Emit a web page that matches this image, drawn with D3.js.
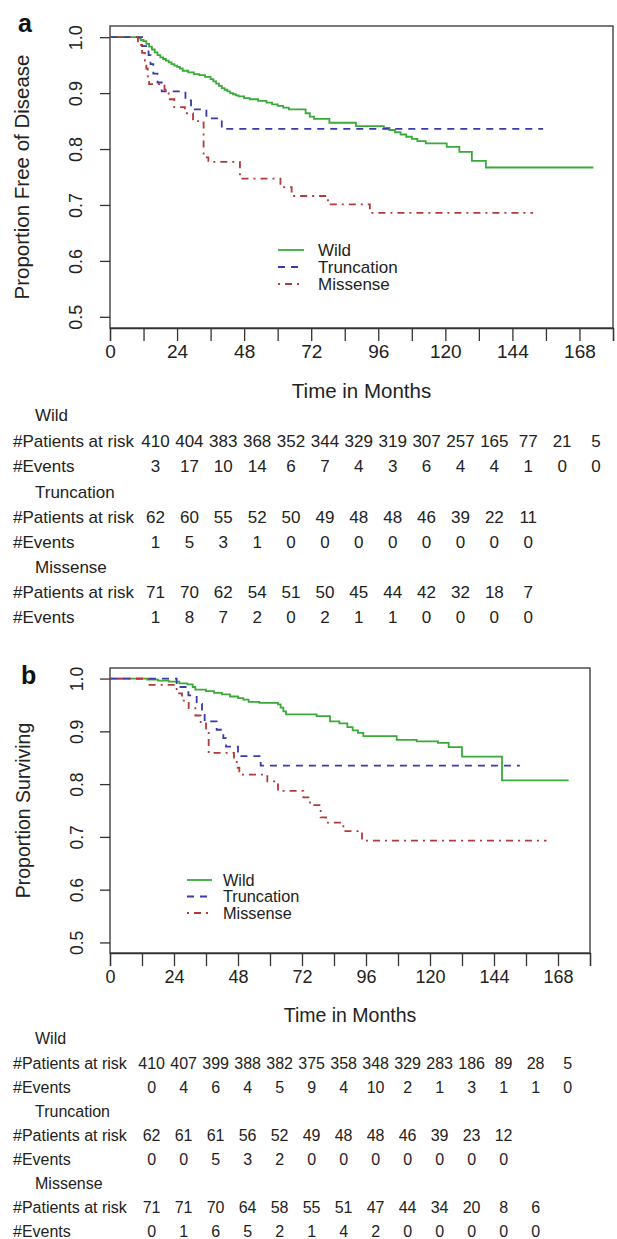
<!DOCTYPE html>
<html>
<head>
<meta charset="utf-8">
<script src="https://cdn.jsdelivr.net/npm/d3@7"></script>
<style>
  body { margin: 0; background: #fff; }
  svg { display: block; font-family: "Liberation Sans", Arial, sans-serif; }
</style>
</head>
<body>
<svg id="chart" width="617" height="1239"></svg>
<script>
// ---- data ----
const groups = ["Wild", "Truncation", "Missense"];
const xTicks = [0, 12, 24, 36, 48, 60, 72, 84, 96, 108, 120, 132, 144, 156, 168, 180];
const xLabels = [0, 24, 48, 72, 96, 120, 144, 168];
const yTicks = [0.5, 0.6, 0.7, 0.8, 0.9, 1.0];

// panel a : disease free, [month, proportion]
const dfsWild = [[0,1],[10,0.998],[11,0.995],[12,0.993],[13,0.988],[14,0.983],[15,0.978],[16,0.973],[17,0.968],[18,0.964],
  [19,0.961],[20,0.958],[21,0.955],[22,0.952],[23,0.949],[24,0.947],[25,0.944],[26,0.940],[28,0.937],[30,0.934],[32,0.932],
  [34,0.929],[36,0.925],[37,0.921],[38,0.917],[39,0.913],[40,0.909],[41,0.906],[42,0.903],[43,0.900],[44,0.898],[45,0.896],
  [46,0.894],[48,0.891],[50,0.889],[53,0.886],[56,0.883],[58,0.880],[60,0.877],[62,0.874],[64,0.871],[70,0.864],[71.5,0.858],
  [73,0.854],[78.5,0.847],[88,0.841],[98,0.838],[100,0.834],[102,0.830],[104,0.826],[106,0.822],[108,0.818],[110,0.814],
  [113,0.810],[120.5,0.804],[125,0.795],[129.5,0.779],[134.5,0.767],[173,0.767]];
const dfsTrunc = [[0,1],[11.5,0.984],[13.8,0.968],[14.5,0.952],[15.5,0.935],[17,0.919],[18.5,0.903],[27,0.887],[29,0.871],
  [34.5,0.855],[40,0.836],[155,0.836]];
const dfsMiss = [[0,1],[10,0.986],[11.5,0.972],[12.5,0.958],[13,0.944],[13.5,0.930],[14,0.916],[19.5,0.906],[21,0.889],
  [23,0.875],[26.8,0.864],[29.7,0.850],[33.5,0.785],[35.2,0.777],[46.5,0.747],[61,0.732],[65,0.716],[78,0.701],[93,0.686],[151.4,0.686]];

// panel b : overall survival
const osWild = [[0,1],[14,0.998],[18,0.996],[22,0.994],[26,0.991],[29,0.989],[31,0.984],[32,0.979],[36,0.976],[39,0.973],
  [42,0.970],[45,0.966],[48,0.963],[50,0.960],[52,0.956],[56,0.954],[63,0.951],[64,0.945],[65,0.938],[66,0.932],[77.5,0.929],
  [82.5,0.919],[86,0.915],[89,0.908],[91,0.902],[93,0.897],[95,0.891],[107.5,0.884],[115,0.881],[123,0.878],[127,0.870],
  [132,0.852],[147,0.807],[172,0.807]];
const osTrunc = [[0,1],[25,0.984],[29.4,0.968],[32.5,0.952],[34.5,0.935],[35.5,0.919],[40,0.903],[42.5,0.887],[43.5,0.871],
  [48,0.853],[56.5,0.835],[153.7,0.835]];
const osMiss = [[0,1],[14.5,0.988],[25,0.972],[27,0.958],[29.5,0.944],[32,0.930],[34,0.915],[36,0.901],[37,0.859],[46.5,0.845],
  [47.5,0.831],[48.5,0.818],[59,0.805],[63,0.787],[72.5,0.775],[75,0.760],[79,0.737],[81,0.727],[87.5,0.711],[94.5,0.693],[163.7,0.693]];

// numbers at risk / events tables
const dfsRiskWild = [410,404,383,368,352,344,329,319,307,257,165,77,21,5];
const dfsEvtWild = [3,17,10,14,6,7,4,3,6,4,4,1,0,0];
const dfsRiskTrunc = [62,60,55,52,50,49,48,48,46,39,22,11];
const dfsEvtTrunc = [1,5,3,1,0,0,0,0,0,0,0,0];
const dfsRiskMiss = [71,70,62,54,51,50,45,44,42,32,18,7];
const dfsEvtMiss = [1,8,7,2,0,2,1,1,0,0,0,0];

const osRiskWild = [410,407,399,388,382,375,358,348,329,283,186,89,28,5];
const osEvtWild = [0,4,6,4,5,9,4,10,2,1,3,1,1,0];
const osRiskTrunc = [62,61,61,56,52,49,48,48,46,39,23,12];
const osEvtTrunc = [0,0,5,3,2,0,0,0,0,0,0,0];
const osRiskMiss = [71,71,70,64,58,55,51,47,44,34,20,8,6];
const osEvtMiss = [0,1,6,5,2,1,4,2,0,0,0,0,0];

// ---- drawing ----
const colors = ["#3aaa3a", "#3a3aa8", "#b23a3a"];
const dashes = [null, "7,6", "2,5,7,5"];
const ink = "#222";
const svg = d3.select("#chart");

function drawPanel(cfg) {
  const g = svg.append("g");
  const x = d3.scaleLinear().domain([0, 180]).range([cfg.left, cfg.right]);
  const y = d3.scaleLinear().domain([0.48, 1.02]).range([cfg.bottom, cfg.top]);

  // x axis
  const xAxis = g.append("g").attr("transform", `translate(0,${cfg.bottom})`)
    .call(d3.axisBottom(x).tickValues(xTicks).tickSize(13).tickPadding(4)
      .tickFormat(d => xLabels.includes(d) ? d : ""));
  xAxis.select(".domain").attr("stroke", "#333").attr("stroke-width", 1.3);
  xAxis.selectAll("line").attr("stroke", "#333").attr("stroke-width", 1.3);
  xAxis.selectAll("text").attr("fill", ink).attr("font-size", cfg.tickFont)
    .attr("font-family", "Liberation Sans, Arial, sans-serif");

  // y axis, labels rotated like R
  const yAxis = g.append("g").attr("transform", `translate(${cfg.left},0)`)
    .call(d3.axisLeft(y).tickValues(yTicks).tickSize(10).tickFormat(d3.format(".1f")));
  yAxis.select(".domain").remove();
  yAxis.selectAll("line").attr("stroke", "#333").attr("stroke-width", 1.3);
  yAxis.selectAll("text").attr("fill", ink).attr("font-size", cfg.yTickFont)
    .attr("font-family", "Liberation Sans, Arial, sans-serif")
    .attr("x", 0).attr("y", -cfg.yLabOff).attr("dy", 0)
    .attr("text-anchor", "middle").attr("transform", "rotate(-90)");

  // box
  g.append("rect").attr("x", cfg.left).attr("y", cfg.top)
    .attr("width", cfg.right - cfg.left).attr("height", cfg.bottom - cfg.top)
    .attr("fill", "none").attr("stroke", "#333").attr("stroke-width", 1.3);

  // curves
  const line = d3.line().x(d => x(d[0])).y(d => y(d[1])).curve(d3.curveStepAfter);
  cfg.curves.forEach((c, i) => {
    g.append("path").datum(c).attr("d", line).attr("fill", "none")
      .attr("stroke", colors[i]).attr("stroke-width", 1.8)
      .attr("stroke-dasharray", dashes[i]);
  });

  // legend
  groups.forEach((name, i) => {
    const ly = cfg.legY + i * cfg.legDy;
    g.append("line").attr("x1", cfg.legX1).attr("x2", cfg.legX2).attr("y1", ly).attr("y2", ly)
      .attr("stroke", colors[i]).attr("stroke-width", 1.8).attr("stroke-dasharray", dashes[i]);
    g.append("text").attr("x", cfg.legTx).attr("y", ly).attr("dy", "0.35em")
      .attr("font-size", cfg.legFont).attr("fill", ink).text(name);
  });

  // titles
  g.append("text").attr("x", (cfg.left + cfg.right) / 2).attr("y", cfg.xTitleY)
    .attr("text-anchor", "middle").attr("font-size", cfg.titleFont).attr("fill", ink)
    .text("Time in Months");
  g.append("text").attr("transform", `translate(${cfg.yTitleX},${(cfg.top + cfg.bottom) / 2}) rotate(-90)`)
    .attr("text-anchor", "middle").attr("font-size", cfg.titleFont).attr("fill", ink)
    .text(cfg.yTitle);
  g.append("text").attr("x", cfg.letterX).attr("y", cfg.letterY)
    .attr("font-size", 25).attr("font-weight", "bold").attr("fill", "#111").text(cfg.letter);

  // risk table
  const col = d3.scaleLinear().domain([0, 13]).range(cfg.colRange);
  cfg.table.forEach((grp, gi) => {
    const y0 = cfg.rowY[gi * 3];
    g.append("text").attr("x", cfg.grpX).attr("y", y0).attr("dy", "0.35em")
      .attr("font-size", cfg.tabFont).attr("fill", ink).text(groups[gi]);
    [["#Patients at risk", grp[0]], ["#Events", grp[1]]].forEach((row, ri) => {
      const yy = cfg.rowY[gi * 3 + 1 + ri];
      g.append("text").attr("x", cfg.rowX).attr("y", yy).attr("dy", "0.35em")
        .attr("font-size", cfg.tabFont).attr("fill", ink).text(row[0]);
      g.selectAll(null).data(row[1]).join("text")
        .attr("x", (d, k) => col(k)).attr("y", yy).attr("dy", "0.35em")
        .attr("text-anchor", "middle").attr("font-size", cfg.tabFont).attr("fill", ink)
        .text(d => d);
    });
  });
}

drawPanel({
  letter: "a", letterX: 18, letterY: 32,
  left: 110, right: 613, top: 26, bottom: 328,
  tickFont: 19, yTickFont: 18, yLabOff: 28, titleFont: 20.5,
  xTitleY: 398, yTitle: "Proportion Free of Disease", yTitleX: 29,
  curves: [dfsWild, dfsTrunc, dfsMiss],
  legX1: 278, legX2: 304, legTx: 318, legY: 250, legDy: 17, legFont: 17,
  table: [[dfsRiskWild, dfsEvtWild], [dfsRiskTrunc, dfsEvtTrunc], [dfsRiskMiss, dfsEvtMiss]],
  rowY: [415, 441, 466, 492, 517, 542, 567, 592, 617],
  grpX: 35, rowX: 13, colRange: [155.5, 596], tabFont: 17
});

drawPanel({
  letter: "b", letterX: 21, letterY: 684,
  left: 110, right: 590, top: 668, bottom: 953,
  tickFont: 18, yTickFont: 17.5, yLabOff: 27, titleFont: 19.5,
  xTitleY: 1022, yTitle: "Proportion Surviving", yTitleX: 30,
  curves: [osWild, osTrunc, osMiss],
  legX1: 187, legX2: 212, legTx: 223, legY: 880, legDy: 16.5, legFont: 16.3,
  table: [[osRiskWild, osEvtWild], [osRiskTrunc, osEvtTrunc], [osRiskMiss, osEvtMiss]],
  rowY: [1038, 1063, 1087, 1111, 1135, 1159, 1183, 1207, 1231],
  grpX: 35, rowX: 13, colRange: [151.6, 567.6], tabFont: 16
});
</script>
</body>
</html>
